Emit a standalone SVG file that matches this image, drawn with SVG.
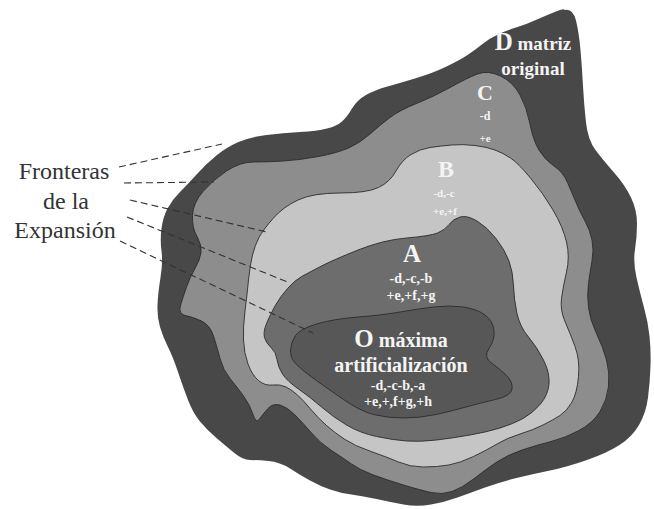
<svg xmlns="http://www.w3.org/2000/svg" width="654" height="509" viewBox="0 0 654 509">
<style>
  .zone { stroke: #2b2b2b; stroke-width: 0.9; }
  .lbl { font-weight: bold; text-anchor: middle; fill: #f4f4f4; }
  .side { font-size: 24px; text-anchor: middle; fill: #333333; }
  .dash { fill: none; stroke: #333333; stroke-width: 1.1; stroke-dasharray: 7 4; }
</style>
<rect width="654" height="509" fill="#ffffff"/>

<g font-family="Liberation Serif, Tinos, DejaVu Serif, serif">
<g id="node-D">
  <path fill="#484848" d="M564.5,10 Q573,8 576,20.5 Q579,33 580.5,50 Q582,67 583,86 Q584,105 586,122.5 Q588,140 595.5,150 Q603,160 614,172.5 Q625,185 631,197.5 Q637,210 637,223.5 Q637,237 635,249.5 Q633,262 636.5,277.5 Q640,293 644,307.5 Q648,322 649.5,336 Q651,350 650.5,366 Q650,382 648,397.5 Q646,413 639,425 Q632,437 619.5,445 Q607,453 587,460 Q567,467 550,470.5 Q533,474 516.5,478 Q500,482 485,487.5 Q470,493 457.5,497.5 Q445,502 431,504.5 Q417,507 403.5,504.5 Q390,502 376.5,499 Q363,496 351.5,494.5 Q340,493 330,489.5 Q320,486 310,480.5 Q300,475 290,468.5 Q280,462 268.5,461 Q257,460 250,460 Q243,460 235,453.5 Q227,447 217,438.5 Q207,430 200,421.5 Q193,413 188,400 Q183,387 178,372 Q173,357 168,347 Q163,337 160,327 Q157,317 157.5,305 Q158,293 160.5,277.5 Q163,262 161.5,251 Q160,240 161.5,228.5 Q163,217 167.5,208.5 Q172,200 179.5,192.5 Q187,185 197,174 Q207,163 217,155 Q227,147 238.5,142 Q250,137 266.5,135 Q283,133 300,132 Q317,131 327,128.5 Q337,126 342,121.5 Q347,117 352,108.5 Q357,100 366,95 Q375,90 387.5,86.5 Q400,83 416.5,78 Q433,73 446.5,66.5 Q460,60 467.5,55 Q475,50 482.5,44 Q490,38 499,34 Q508,30 517.5,27 Q527,24 537,19.5 Q547,15 556,11.5 Q565,8 564.5,10 Z"/>
  <text class="lbl" x="533" y="50" font-size="19"><tspan font-size="25">D</tspan> matriz</text>
  <text class="lbl" x="533" y="75" font-size="19">original</text>
</g>

<g id="node-C">
  <path class="zone" fill="#8d8d8d" d="M477.5,74 Q488,70 500.5,76 Q513,82 520,95 Q527,108 530,124 Q533,140 539,150 Q545,160 554,166 Q563,172 567.5,182.5 Q572,193 576,202.5 Q580,212 585,221 Q590,230 592,240 Q594,250 592,261 Q590,272 588.5,283.5 Q587,295 588.5,307.5 Q590,320 596.5,333.5 Q603,347 606.5,360 Q610,373 608.5,386.5 Q607,400 600,411.5 Q593,423 579,430.5 Q565,438 551,441.5 Q537,445 522,450 Q507,455 496,462.5 Q485,470 473.5,479 Q462,488 452,491.5 Q442,495 431,492.5 Q420,490 403.5,485 Q387,480 373.5,475 Q360,470 351.5,464 Q343,458 331.5,450.5 Q320,443 311.5,433 Q303,423 295,415 Q287,407 280,405 Q273,403 268,408.5 Q263,414 259.5,419 Q256,424 253,414.5 Q250,405 243.5,396 Q237,387 230,378.5 Q223,370 220,358.5 Q217,347 213.5,336 Q210,325 201.5,321 Q193,317 185.5,315.5 Q178,314 180.5,305.5 Q183,297 186.5,287 Q190,277 195,268.5 Q200,260 201,252.5 Q202,245 197,236.5 Q192,228 192.5,215.5 Q193,203 203,191.5 Q213,180 226.5,171 Q240,162 253.5,162 Q267,162 283.5,161 Q300,160 318.5,156.5 Q337,153 348.5,148 Q360,143 370,134 Q380,125 390,117.5 Q400,110 416.5,103.5 Q433,97 450,87.5 Q467,78 477.5,74 Z"/>
  <text class="lbl" x="485" y="100" font-size="22" fill="#e2e2e2">C</text>
  <text class="lbl" x="485" y="120" font-size="12" fill="#e6e6e6">-d</text>
  <text class="lbl" x="485" y="142" font-size="11" fill="#b8b8b8">+e</text>
</g>

<g id="node-B">
  <path class="zone" fill="#c5c5c5" d="M451.5,145 Q463,144 475,145.5 Q487,147 495,150 Q503,153 510.5,158 Q518,163 530.5,178 Q543,193 553,210 Q563,227 566.5,242 Q570,257 566.5,272 Q563,287 561.5,298.5 Q560,310 565,321.5 Q570,333 575,346.5 Q580,360 578.5,376.5 Q577,393 572,402 Q567,411 560,415.5 Q553,420 543,425 Q533,430 520,434 Q507,438 497,444 Q487,450 473.5,456.5 Q460,463 448.5,465 Q437,467 423.5,467 Q410,467 398.5,462 Q387,457 371,451.5 Q355,446 345,439.5 Q335,433 326.5,425.5 Q318,418 310.5,409 Q303,400 297.5,395 Q292,390 286,387 Q280,384 272.5,385 Q265,386 258.5,380.5 Q252,375 248,364 Q244,353 243.5,340 Q243,327 245,311 Q247,295 248.5,280 Q250,265 252.5,255 Q255,245 259,237.5 Q263,230 273,218.5 Q283,207 298,200 Q313,193 340,193 Q367,193 378.5,187.5 Q390,182 396,171 Q402,160 411,154.5 Q420,149 430,147.5 Q440,146 451.5,145 Z"/>
  <text class="lbl" x="446" y="177" font-size="24" fill="#f2f2f2">B</text>
  <text class="lbl" x="444" y="197" font-size="11" fill="#ececec">-d,-c</text>
  <text class="lbl" x="445" y="215" font-size="11" fill="#eeeeee">+e,+f</text>
</g>

<g id="node-A">
  <path class="zone" fill="#6d6d6d" d="M449,224.5 Q453,219 460,217 Q467,215 477,221 Q487,227 496,238.5 Q505,250 509,261 Q513,272 513.5,286 Q514,300 517,313.5 Q520,327 528.5,337 Q537,347 543.5,360 Q550,373 549,384 Q548,395 540.5,404 Q533,413 523,418.5 Q513,424 500,428 Q487,432 470,435 Q453,438 436.5,440 Q420,442 406.5,441 Q393,440 376.5,436.5 Q360,433 346.5,425 Q333,417 321.5,407 Q310,397 298.5,389 Q287,381 282.5,374 Q278,367 277,359.5 Q276,352 271,347.5 Q266,343 264.5,337.5 Q263,332 266.5,323.5 Q270,315 275,306 Q280,297 287.5,288.5 Q295,280 302.5,276 Q310,272 321.5,266 Q333,260 358,250 Q383,240 406.5,238 Q430,236 437.5,233 Q445,230 449,224.5 Z"/>
  <text class="lbl" x="412" y="262" font-size="25">A</text>
  <text class="lbl" x="411" y="283" font-size="14">-d,-c,-b</text>
  <text class="lbl" x="411" y="300" font-size="14">+e,+f,+g</text>
</g>

<g id="node-O">
  <path class="zone" fill="#575757" d="M295.5,335.5 Q300,329 316.5,324 Q333,319 358,317 Q383,315 400,312 Q417,309 433.5,307 Q450,305 463.5,307 Q477,309 485,315 Q493,321 494,330.5 Q495,340 489,348.5 Q483,357 491.5,363 Q500,369 506.5,375.5 Q513,382 512,389 Q511,396 495.5,399.5 Q480,403 466,407 Q452,411 436,414.5 Q420,418 403.5,418 Q387,418 373.5,414.5 Q360,411 343.5,399.5 Q327,388 315,379.5 Q303,371 296.5,364.5 Q290,358 290.5,350 Q291,342 295.5,335.5 Z"/>
  <text class="lbl" x="401" y="347" font-size="20"><tspan font-size="25">O</tspan> máxima</text>
  <text class="lbl" x="401" y="372" font-size="20">artificialización</text>
  <text class="lbl" x="398" y="390" font-size="14">-d,-c-b,-a</text>
  <text class="lbl" x="398" y="406" font-size="14">+e,+,f+g,+h</text>
</g>

<g id="label-fronteras">
  <text class="side" x="64" y="179">Fronteras</text>
  <text class="side" x="66" y="209">de la</text>
  <text class="side" x="65" y="238">Expansión</text>
</g>
</g>

<g id="connectors">
  <line class="dash" x1="119" y1="167" x2="222" y2="144"/>
  <line class="dash" x1="124" y1="183" x2="214" y2="182"/>
  <line class="dash" x1="130" y1="200" x2="267" y2="232"/>
  <line class="dash" x1="127" y1="217" x2="290" y2="283"/>
  <line class="dash" x1="120" y1="241" x2="313" y2="333"/>
</g>
</svg>
